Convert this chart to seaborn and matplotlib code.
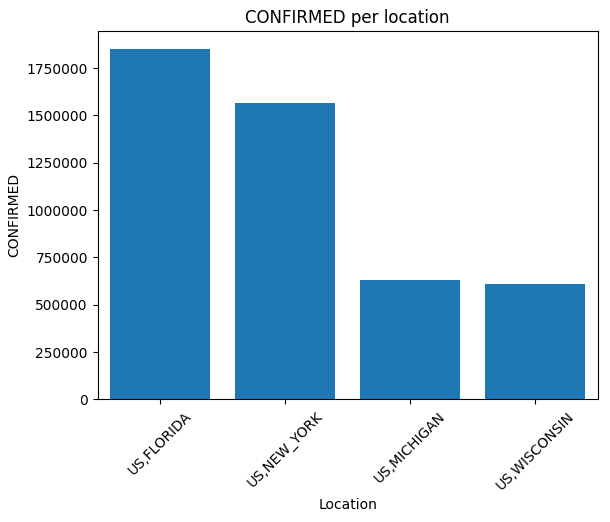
import matplotlib
matplotlib.use("Agg")
import matplotlib.pyplot as plt
import seaborn as sns
import pandas as pd

locations = ["US,FLORIDA", "US,NEW_YORK", "US,MICHIGAN", "US,WISCONSIN"]
confirmed = [1852000, 1568000, 632000, 611000]

df = pd.DataFrame({"Location": locations, "CONFIRMED": confirmed})
fig, ax = plt.subplots(figsize=(6.1, 5.22), dpi=100)
fig.subplots_adjust(left=0.16, right=0.98, top=0.94, bottom=0.235)
sns.barplot(data=df, x="Location", y="CONFIRMED", color="#1f77b4", saturation=1, width=0.8, ax=ax)
ax.ticklabel_format(axis="y", style="plain")
ax.set_title("CONFIRMED per location")
ax.set_xlabel("Location")
ax.set_ylabel("CONFIRMED")
plt.setp(ax.get_xticklabels(), rotation=45)
fig.savefig("out.png", dpi=100)
